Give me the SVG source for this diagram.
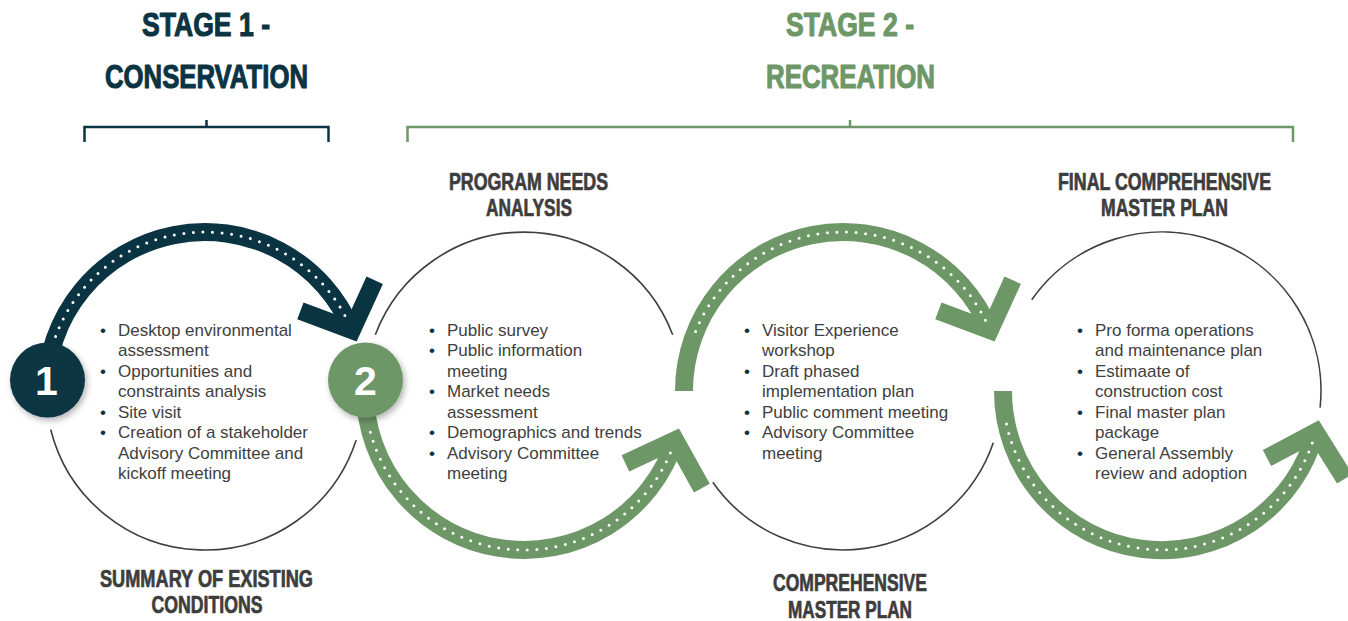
<svg xmlns="http://www.w3.org/2000/svg" width="1348" height="621" viewBox="0 0 1348 621">
<defs>
<filter id="sh" x="-40%" y="-40%" width="180%" height="180%">
<feDropShadow dx="2" dy="3" stdDeviation="3" flood-color="#000" flood-opacity="0.3"/>
</filter>
</defs>
<style>
.ttl{font-family:"Liberation Sans Narrow","Liberation Sans",Arial,sans-serif;font-weight:700;font-size:34px;text-anchor:middle;stroke-width:1.1;stroke-linejoin:round}
.t1{fill:#0b3443;stroke:#0b3443}
.t2{fill:#6e9767;stroke:#6e9767}
.lbl{font-family:"Liberation Sans Narrow","Liberation Sans",Arial,sans-serif;font-weight:700;font-size:23.5px;fill:#3d3d3d;stroke:#3d3d3d;stroke-width:0.7;stroke-linejoin:round;text-anchor:middle}
.bl{font-family:"Liberation Sans",Arial,sans-serif;font-size:17px;fill:#404040}
.bu{fill:#0b3443}
.ring{fill:none;stroke:#404040;stroke-width:1.6}
.brk{fill:none;stroke-width:2.5}
.arc{fill:none;stroke-width:18}
.chev{fill:none;stroke-width:18;stroke-linejoin:miter;stroke-miterlimit:10;stroke-linecap:butt}
.dots{fill:none;stroke:#fff;stroke-width:3;stroke-linecap:round;stroke-dasharray:0 9.6}
.dk{stroke:#0b3443}
.gr{stroke:#6e9767}
.num{font-family:"Liberation Sans",Arial,sans-serif;font-weight:700;font-size:41px;fill:#fff;text-anchor:middle}
</style>
<rect width="1348" height="621" fill="#fff"/>

<g id="stage1-header">
<text class="ttl t1" x="206" y="36" textLength="128" lengthAdjust="spacingAndGlyphs">STAGE 1 -</text>
<text class="ttl t1" x="206.5" y="88" textLength="203" lengthAdjust="spacingAndGlyphs">CONSERVATION</text>
<path class="brk" stroke="#0b3443" d="M84.5,142 V127 H328.5 V142 M206.5,127 V120"/>
</g>
<g id="stage2-header">
<text class="ttl t2" x="850" y="36" textLength="128" lengthAdjust="spacingAndGlyphs">STAGE 2 -</text>
<text class="ttl t2" x="850.5" y="88" textLength="169" lengthAdjust="spacingAndGlyphs">RECREATION</text>
<path class="brk" stroke="#6e9767" d="M407.5,142 V127 H1293 V142 M850,127 V120"/>
</g>

<g id="rings">
<path class="ring" d="M50.7,429.5 A159,159 0 0 0 356.2,440.1"/>
<path class="ring" d="M375.3,334.8 A159,159 0 0 1 672.7,334.8"/>
<path class="ring" d="M712.8,482.2 A159,159 0 0 0 993.3,442.8"/>
<path class="ring" d="M1031.7,299.8 A159,159 0 0 1 1320.1,407.6"/>
</g>

<g id="connectors">
<g id="arrow1">
<path class="arc dk" d="M46,391 A159,159 0 0 1 351.9,330.2"/>
<path class="chev dk" d="M300.4,310.9 L351.9,330.2 L374.7,280.2"/>
<path class="dots" d="M55.6,336.6 A159,159 0 0 1 347.9,321.3"/>
</g>
<g id="arrow2">
<path class="arc gr" d="M365,391 A159,159 0 0 0 675.2,440.1"/>
<path class="chev gr" d="M625.4,463.3 L675.2,440.1 L701.9,488.2"/>
<path class="dots" d="M370.4,432.2 A159,159 0 0 0 672.4,448.0"/>
</g>
<g id="arrow3">
<path class="arc gr" d="M684,391 A159,159 0 0 1 989.9,330.2"/>
<path class="chev gr" d="M938.4,310.9 L989.9,330.2 L1012.7,280.2"/>
<path class="dots" d="M695.6,331.4 A159,159 0 0 1 985.9,321.3"/>
</g>
<g id="arrow4">
<path class="arc gr" d="M1003,391 A159,159 0 0 0 1315.6,432.2"/>
<path class="chev gr" d="M1267,458 L1315.6,432.2 L1344.7,478.8"/>
<path class="dots" d="M1006.5,424.1 A159,159 0 0 0 1313.2,440.1"/>
</g>
</g>

<g id="node1">
<text class="lbl" x="206.5" y="587" textLength="213" lengthAdjust="spacingAndGlyphs">SUMMARY OF EXISTING</text>
<text class="lbl" x="207" y="613" textLength="111" lengthAdjust="spacingAndGlyphs">CONDITIONS</text>
<g class="bl">
<text x="118" y="335.5">Desktop environmental</text>
<text x="118" y="356">assessment</text>
<text x="118" y="376.5">Opportunities and</text>
<text x="118" y="397">constraints analysis</text>
<text x="118" y="417.5">Site visit</text>
<text x="118" y="438">Creation of a stakeholder</text>
<text x="118" y="458.5">Advisory Committee and</text>
<text x="118" y="479">kickoff meeting</text>
</g>
<g class="bl bu">
<text x="100" y="335.5">•</text>
<text x="100" y="376.5">•</text>
<text x="100" y="417.5">•</text>
<text x="100" y="438">•</text>
</g>
<g id="badge1" filter="url(#sh)">
<circle cx="47.5" cy="380" r="37.5" fill="#0b3443"/>
</g>
<text class="num" x="46.5" y="395">1</text>
</g>

<g id="node2">
<text class="lbl" x="528.5" y="190" textLength="159" lengthAdjust="spacingAndGlyphs">PROGRAM NEEDS</text>
<text class="lbl" x="529" y="216" textLength="86" lengthAdjust="spacingAndGlyphs">ANALYSIS</text>
<g class="bl">
<text x="447" y="335.5">Public survey</text>
<text x="447" y="356">Public information</text>
<text x="447" y="376.5">meeting</text>
<text x="447" y="397">Market needs</text>
<text x="447" y="417.5">assessment</text>
<text x="447" y="438">Demographics and trends</text>
<text x="447" y="458.5">Advisory Committee</text>
<text x="447" y="479">meeting</text>
</g>
<g class="bl bu">
<text x="429" y="335.5">•</text>
<text x="429" y="356">•</text>
<text x="429" y="397">•</text>
<text x="429" y="438">•</text>
<text x="429" y="458.5">•</text>
</g>
<g id="badge2" filter="url(#sh)">
<circle cx="365.5" cy="380" r="37.5" fill="#6e9767"/>
</g>
<text class="num" x="365.5" y="395">2</text>
</g>

<g id="node3">
<text class="lbl" x="850" y="591" textLength="154" lengthAdjust="spacingAndGlyphs">COMPREHENSIVE</text>
<text class="lbl" x="850" y="618" textLength="124" lengthAdjust="spacingAndGlyphs">MASTER PLAN</text>
<g class="bl">
<text x="762" y="335.5">Visitor Experience</text>
<text x="762" y="356">workshop</text>
<text x="762" y="376.5">Draft phased</text>
<text x="762" y="397">implementation plan</text>
<text x="762" y="417.5">Public comment meeting</text>
<text x="762" y="438">Advisory Committee</text>
<text x="762" y="458.5">meeting</text>
</g>
<g class="bl bu">
<text x="744" y="335.5">•</text>
<text x="744" y="376.5">•</text>
<text x="744" y="417.5">•</text>
<text x="744" y="438">•</text>
</g>
</g>

<g id="node4">
<text class="lbl" x="1164.5" y="190" textLength="213" lengthAdjust="spacingAndGlyphs">FINAL COMPREHENSIVE</text>
<text class="lbl" x="1164.5" y="216" textLength="127" lengthAdjust="spacingAndGlyphs">MASTER PLAN</text>
<g class="bl">
<text x="1095" y="335.5">Pro forma operations</text>
<text x="1095" y="356">and maintenance plan</text>
<text x="1095" y="376.5">Estimaate of</text>
<text x="1095" y="397">construction cost</text>
<text x="1095" y="417.5">Final master plan</text>
<text x="1095" y="438">package</text>
<text x="1095" y="458.5">General Assembly</text>
<text x="1095" y="479">review and adoption</text>
</g>
<g class="bl bu">
<text x="1077" y="335.5">•</text>
<text x="1077" y="376.5">•</text>
<text x="1077" y="417.5">•</text>
<text x="1077" y="458.5">•</text>
</g>
</g>
</svg>
